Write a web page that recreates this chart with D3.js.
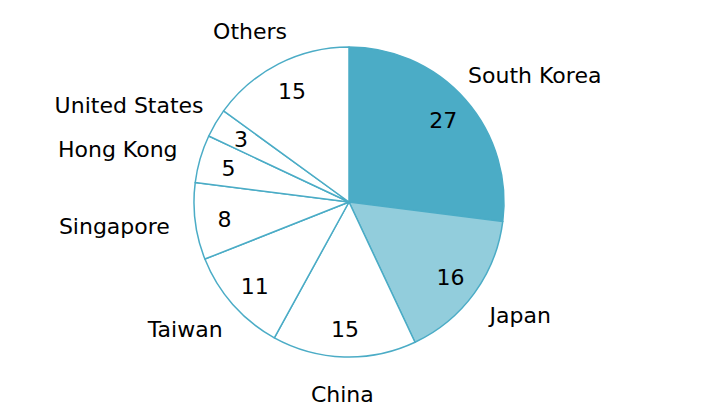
<!DOCTYPE html>
<html>
<head>
<meta charset="utf-8">
<script src="https://cdn.jsdelivr.net/npm/d3@7"></script>
<style>
  body { margin: 0; background: #fff; }
  text { font-family: Verdana, "DejaVu Sans", sans-serif; font-size: 22px; fill: #000; }
</style>
</head>
<body>
<svg id="chart" width="705" height="409"></svg>
<script>
var categories = ["South Korea", "Japan", "China", "Taiwan", "Singapore", "Hong Kong", "United States", "Others"];
var values = [27, 16, 15, 11, 8, 5, 3, 15];
var fills = ["#4bacc6", "#92cddc", "#ffffff", "#ffffff", "#ffffff", "#ffffff", "#ffffff", "#ffffff"];

var width = 705, height = 409,
	cx = 349, cy = 202,
	radius = 155;

var svg = d3.select("#chart");
var g = svg.append("g").attr("transform", "translate(" + cx + "," + cy + ")");

var data = categories.map(function(c, i){ return {name: c, value: values[i], fill: fills[i]}; });

var pie = d3.pie().sort(null).value(function(d){ return d.value; });
var arc = d3.arc().innerRadius(0).outerRadius(radius);
var arcs = pie(data);

g.selectAll("path.slice")
	.data(arcs)
	.enter().append("path")
		.attr("class", "slice")
		.attr("d", arc)
		.attr("fill", function(d){ return d.data.fill; })
		.attr("stroke", "#4bacc6")
		.attr("stroke-width", 1.5)
		.attr("stroke-linejoin", "round");

// values inside
var inner = d3.arc().innerRadius(radius * 0.81).outerRadius(radius * 0.81);
g.selectAll("text.val")
	.data(arcs)
	.enter().append("text")
		.attr("class", "val")
		.attr("transform", function(d){ return "translate(" + inner.centroid(d) + ")"; })
		.attr("text-anchor", "middle")
		.attr("dy", "0.42em")
		.text(function(d){ return d.data.value; });

// category labels outside, box touching a ring like office charts do
var labelR = radius + 26, lineH = 22;
g.selectAll("text.cat")
	.data(arcs)
	.enter().append("text")
		.attr("class", "cat")
		.attr("text-anchor", "middle")
		.attr("dy", "0.38em")
		.text(function(d){ return d.data.name; })
		.each(function(d){
			var a = (d.startAngle + d.endAngle) / 2,
				s = Math.sin(a), c = Math.cos(a),
				w = this.getComputedTextLength();
			var x = labelR * s + w * s / 2,
				y = -labelR * c - lineH * c / 2;
			d3.select(this).attr("x", x).attr("y", y);
		});
</script>
</body>
</html>
